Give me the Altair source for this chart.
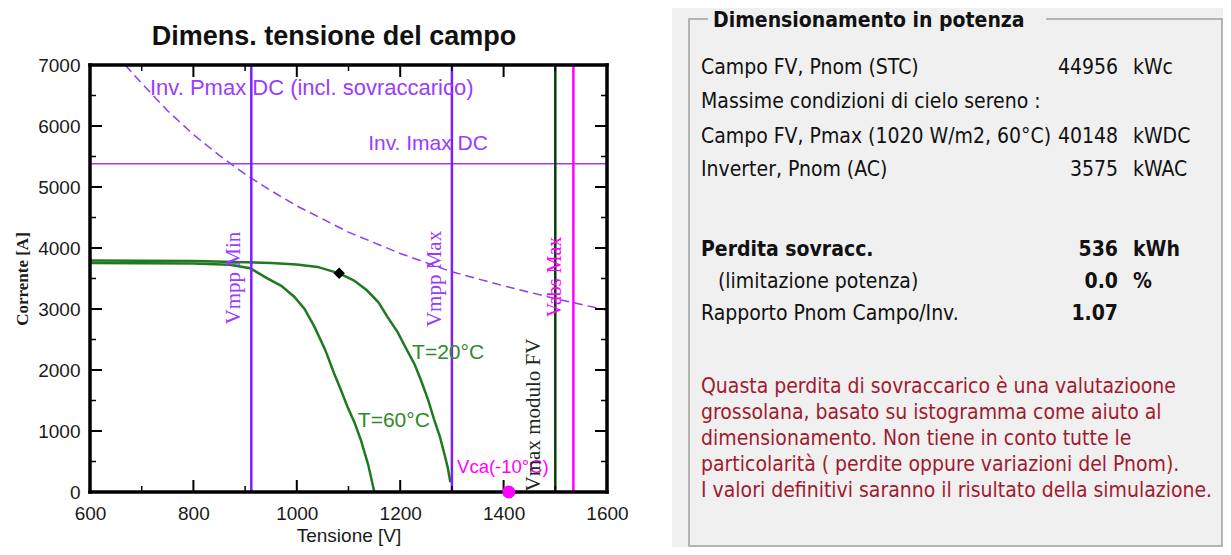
import altair as alt
import pandas as pd

# ---------------- data ----------------
V_T20 = [600, 700, 800, 880, 950, 1000, 1040, 1082, 1110, 1135, 1158, 1175, 1195, 1213, 1228, 1240, 1254, 1266, 1277, 1285, 1292, 1297]
I_T20 = [3795, 3792, 3785, 3772, 3755, 3728, 3690, 3585, 3470, 3311, 3110, 2874, 2620, 2328, 2090, 1836, 1510, 1180, 900, 639, 400, 160]

V_T60 = [600, 700, 800, 870, 910, 943, 970, 995, 1015, 1034, 1055, 1072, 1085, 1098, 1112, 1124, 1138, 1150]
I_T60 = [3755, 3752, 3745, 3725, 3667, 3503, 3380, 3202, 3000, 2710, 2330, 1946, 1680, 1399, 1130, 852, 450, 0]

V_PMAX = [668, 700, 750, 800, 850, 900, 950, 1000, 1100, 1200, 1300, 1400, 1500, 1600]
I_PMAX = [7000, 6700, 6250, 5860, 5520, 5210, 4940, 4690, 4260, 3910, 3610, 3380, 3170, 2980]

V_MPP_MIN = 912
V_MPP_MAX = 1300
V_MAX_MODULE = 1500
V_ABS_MAX = 1535
I_MAX_DC = 5380
V_OC_M10 = 1410
MPP_V = [1082]
MPP_I = [3585]

X_TICKS = [600, 800, 1000, 1200, 1400, 1600]
X_MINOR = [700, 900, 1100, 1300, 1500]
Y_TICKS = [0, 1000, 2000, 3000, 4000, 5000, 6000, 7000]
Y_MINOR = [500, 1500, 2500, 3500, 4500, 5500, 6500]

TITLE = "Dimens. tensione del campo"
X_TITLE = "Tensione [V]"
Y_TITLE = "Corrente [A]"

PANEL_TITLE = "Dimensionamento in potenza"
PANEL_LABELS = ["Campo FV, Pnom (STC)", "Massime condizioni di cielo sereno :",
                "Campo FV, Pmax (1020 W/m2, 60°C)", "Inverter, Pnom (AC)",
                "Perdita sovracc.", "(limitazione potenza)", "Rapporto Pnom Campo/Inv."]
PANEL_VALUES = ["44956", "", "40148", "3575", "536", "0.0", "1.07"]
PANEL_UNITS = ["kWc", "", "kWDC", "kWAC", "kWh", "%", ""]
PANEL_BOLD = [False, False, False, False, True, False, False]
VALUE_BOLD = [False, False, False, False, True, True, True]
NOTE_LINES = ["Quasta perdita di sovraccarico è una valutazioone",
              "grossolana, basato su istogramma come aiuto al",
              "dimensionamento. Non tiene in conto tutte le",
              "particolarità ( perdite oppure variazioni del Pnom).",
              "I valori definitivi saranno il risultato della simulazione."]

# ---------------- layout ----------------
W, H = 517, 427
PAD_L, PAD_T = 82, 57
TOTAL_W, TOTAL_H = 1215, 539
SANS = "Liberation Sans"
SERIF = "Liberation Serif"
PFONT = "DejaVu Sans Condensed"
PURPLE = "#7a1fff"
PURPLE_T = "#9a3cff"
MAGENTA = "#ff00ff"
GREEN = "#1f7a1f"
DKGREEN = "#0b3d0b"

xs = alt.Scale(domain=[600, 1600], nice=False, zero=False)
ys = alt.Scale(domain=[0, 7000], nice=False, zero=True)

x_axis = alt.Axis(values=X_TICKS, format="d", ticks=False, domain=False, grid=False,
                  labelFlush=False, labelOverlap=False,
                  labelFont=SANS, labelFontSize=19, labelColor="#1a1a1a", labelPadding=12,
                  title=X_TITLE, titleFont=SANS, titleFontSize=19, titleFontWeight="normal",
                  titleColor="#1a1a1a", titlePadding=3)
y_axis = alt.Axis(values=Y_TICKS, format="d", ticks=False, domain=False, grid=False,
                  labelFlush=False, labelOverlap=False,
                  labelFont=SANS, labelFontSize=19, labelColor="#1a1a1a", labelPadding=10,
                  title=Y_TITLE, titleFont=SERIF, titleFontSize=17, titleFontWeight="bold",
                  titleColor="#1a1a1a", titlePadding=6)

X = lambda: alt.X("V:Q", scale=xs, axis=x_axis)
Y = lambda: alt.Y("I:Q", scale=ys, axis=y_axis)

one = pd.DataFrame({"k": [0]})
layers = []

# backgrounds
layers.append(alt.Chart(one).mark_rect(fill="#f0f0f0").encode(
    x=alt.value(582), x2=alt.value(TOTAL_W - PAD_L), y=alt.value(-PAD_T), y2=alt.value(TOTAL_H - PAD_T)))
layers.append(alt.Chart(one).mark_rect(fill="#f0f0f0", stroke="#a0a0a0", strokeWidth=1.5).encode(
    x=alt.value(599), x2=alt.value(1132), y=alt.value(-46), y2=alt.value(481)))
layers.append(alt.Chart(one).mark_rect(fill="#f0f0f0").encode(
    x=alt.value(618), x2=alt.value(956), y=alt.value(-56), y2=alt.value(-37)))

# curves
df20 = pd.DataFrame({"V": V_T20, "I": I_T20})
df60 = pd.DataFrame({"V": V_T60, "I": I_T60})
dfp = pd.DataFrame({"V": V_PMAX, "I": I_PMAX})
layers.append(alt.Chart(dfp).mark_line(color="#8a3cff", strokeWidth=1.5, strokeDash=[9, 5], clip=True)
              .encode(x=X(), y=Y(), order="V:Q"))
layers.append(alt.Chart(df60).mark_line(color=GREEN, strokeWidth=2.5).encode(x=X(), y=Y(), order="V:Q"))
layers.append(alt.Chart(df20).mark_line(color=GREEN, strokeWidth=2.5).encode(x=X(), y=Y(), order="V:Q"))

# limit lines
layers.append(alt.Chart(pd.DataFrame({"I": [I_MAX_DC]})).mark_rule(color="#9d3cff", strokeWidth=1.5)
              .encode(y=Y()))
layers.append(alt.Chart(pd.DataFrame({"V": [V_MPP_MIN, V_MPP_MAX]})).mark_rule(color=PURPLE, strokeWidth=2.5)
              .encode(x=X()))
layers.append(alt.Chart(pd.DataFrame({"V": [V_MAX_MODULE]})).mark_rule(color=DKGREEN, strokeWidth=2.5)
              .encode(x=X()))
layers.append(alt.Chart(pd.DataFrame({"V": [V_ABS_MAX]})).mark_rule(color=MAGENTA, strokeWidth=2.5)
              .encode(x=X()))

# ticks (inward)
for vals, L, w in [(X_TICKS, 12, 2), (X_MINOR, 6, 1.5)]:
    d = pd.DataFrame({"V": vals})
    layers.append(alt.Chart(d).mark_rule(color="black", strokeWidth=w).encode(x=X(), y=alt.value(H), y2=alt.value(H - L)))
    layers.append(alt.Chart(d).mark_rule(color="black", strokeWidth=w).encode(x=X(), y=alt.value(0), y2=alt.value(L)))
for vals, L, w in [(Y_TICKS, 12, 2), (Y_MINOR, 6, 1.5)]:
    d = pd.DataFrame({"I": vals})
    layers.append(alt.Chart(d).mark_rule(color="black", strokeWidth=w).encode(y=Y(), x=alt.value(0), x2=alt.value(L)))
    layers.append(alt.Chart(d).mark_rule(color="black", strokeWidth=w).encode(y=Y(), x=alt.value(W), x2=alt.value(W - L)))

# frame (four thick sides)
FW = 3.5
layers.append(alt.Chart(one).mark_rule(color="black", strokeWidth=FW, strokeCap="square").encode(
    x=alt.value(0), x2=alt.value(W), y=alt.value(0)))
layers.append(alt.Chart(one).mark_rule(color="black", strokeWidth=FW, strokeCap="square").encode(
    x=alt.value(0), x2=alt.value(W), y=alt.value(H)))
layers.append(alt.Chart(one).mark_rule(color="black", strokeWidth=FW, strokeCap="square").encode(
    y=alt.value(0), y2=alt.value(H), x=alt.value(0)))
layers.append(alt.Chart(one).mark_rule(color="black", strokeWidth=FW, strokeCap="square").encode(
    y=alt.value(0), y2=alt.value(H), x=alt.value(W)))

# points
layers.append(alt.Chart(pd.DataFrame({"V": MPP_V, "I": MPP_I})).mark_point(
    shape="diamond", filled=True, color="black", size=130, opacity=1).encode(x=X(), y=Y()))
layers.append(alt.Chart(pd.DataFrame({"V": [V_OC_M10], "I": [0]})).mark_point(
    shape="circle", filled=True, color=MAGENTA, size=170, opacity=1).encode(x=X(), y=Y()))

# annotations inside the plot (anchor positions in data units)
def label(text, v, i, color, font, size, angle=0, align="left"):
    d = pd.DataFrame({"V": [v], "I": [i], "t": [text]})
    return alt.Chart(d).mark_text(color=color, font=font, fontSize=size, angle=angle,
                                  align=align, baseline="middle").encode(x=X(), y=Y(), text="t:N")

layers.append(label("Inv. Pmax DC (incl. sovraccarico)", 716, 6623, PURPLE_T, SANS, 22))
layers.append(label("Inv. Imax DC", 1138, 5705, PURPLE_T, SANS, 21))
layers.append(label("T=20°C", 1223, 2279, "#2f8a2a", SANS, 21))
layers.append(label("T=60°C", 1118, 1164, "#2f8a2a", SANS, 21))
layers.append(label("Vca(-10°C)", 1310, 410, MAGENTA, SANS, 18.5))
layers.append(label("Vmpp Min", 878, 3508, PURPLE_T, SERIF, 21, 270, "center"))
layers.append(label("Vmpp Max", 1267, 3492, PURPLE_T, SERIF, 21, 270, "center"))
layers.append(label("Vabs Max", 1499, 3525, MAGENTA, SERIF, 20, 270, "center"))
layers.append(label("Vmax modulo FV", 1459, 1262, "#1c2a1c", SERIF, 21, 270, "center"))

# chart title
layers.append(alt.Chart(one).mark_text(font=SANS, fontSize=27, fontWeight="bold", color="#111",
                                       align="center", baseline="middle").encode(
    x=alt.value(244), y=alt.value(-28), text=alt.value(TITLE)))

# panel text
def ptext(text, x, y, color="#111", bold=False, align="left", size=21):
    return alt.Chart(one).mark_text(font=PFONT, fontSize=size, fontWeight="bold" if bold else "normal",
                                    color=color, align=align, baseline="middle").encode(
        x=alt.value(x), y=alt.value(y), text=alt.value(text))

layers.append(ptext(PANEL_TITLE, 623, -44, bold=True, size=21))
ROW_Y = [3, 37, 72, 105, 185, 217, 249]
LABEL_X = [611, 611, 611, 611, 611, 628, 611]
for lab, val, unit, lb, vb, ry, lx in zip(PANEL_LABELS, PANEL_VALUES, PANEL_UNITS, PANEL_BOLD, VALUE_BOLD, ROW_Y, LABEL_X):
    layers.append(ptext(lab, lx, ry, bold=lb))
    if val:
        layers.append(ptext(val, 1028, ry, bold=vb, align="right"))
    if unit:
        layers.append(ptext(unit, 1043, ry, bold=vb))
NOTE_Y = [322, 348, 374, 400, 426]
for line, ny in zip(NOTE_LINES, NOTE_Y):
    layers.append(ptext(line, 611, ny, color="#a11a2e"))

chart = alt.layer(*layers).properties(
    width=W, height=H,
    autosize=alt.AutoSizeParams(type="none"),
    padding={"left": PAD_L, "top": PAD_T, "right": TOTAL_W - PAD_L - W, "bottom": TOTAL_H - PAD_T - H},
).configure_view(stroke=None, fill="white").configure(background="white")

chart.save("out.html", embed_options={"renderer": "svg", "actions": False})
